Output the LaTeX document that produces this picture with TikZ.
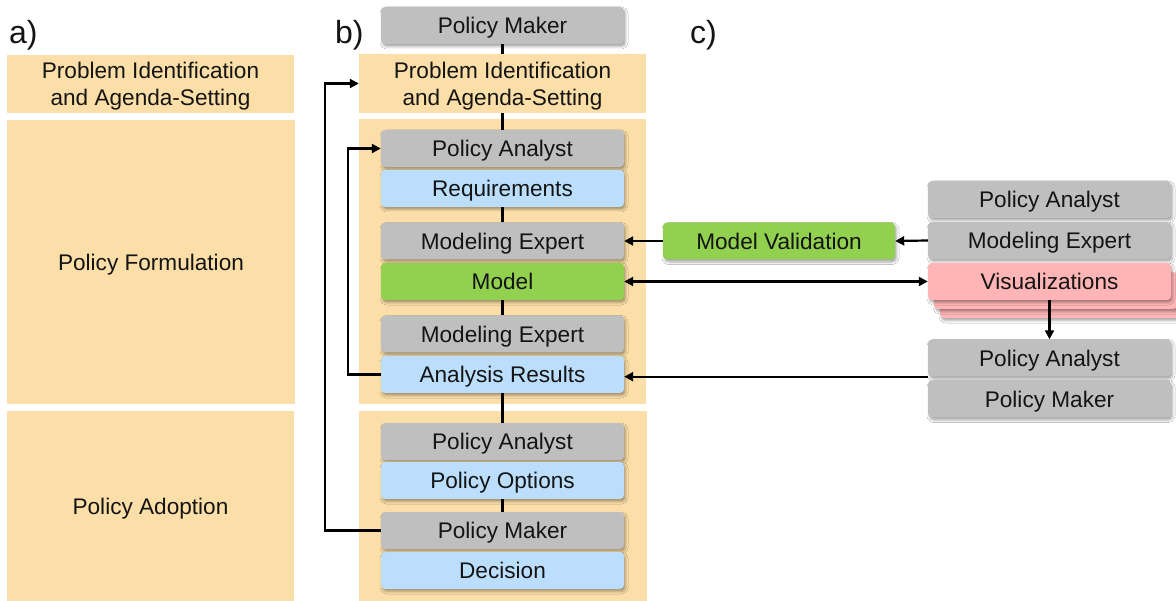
\documentclass[tikz,border=0pt]{standalone}
\usepackage{fontspec}
\setmainfont{Liberation Sans}
\usetikzlibrary{arrows.meta,shadows.blur}
\definecolor{panelc}{HTML}{FCDFA8}
\definecolor{grayc}{HTML}{BFBFBF}
\definecolor{bluec}{HTML}{BBDEFD}
\definecolor{greenc}{HTML}{92D050}
\definecolor{pinkc}{HTML}{FFB5B5}
\definecolor{inkc}{HTML}{141414}
\newcommand{\bodyfont}{\fontsize{22.6}{27}\selectfont}
\newcommand{\tagfont}{\fontsize{32}{36}\selectfont}
\tikzset{
  panel/.style={fill=panelc, draw=none, inner sep=0pt, align=center,
    font=\bodyfont, text=inkc, text depth=0pt},
  panelone/.style={panel, text height=16.5pt},
  card/.style={rounded corners=4pt, draw=none, inner sep=0pt,
    minimum width=243pt, minimum height=37pt, font=\bodyfont, text=inkc,
    text height=16.5pt, text depth=0pt,
    blur shadow={shadow xshift=1.5pt, shadow yshift=-2.5pt,
      shadow blur radius=2.5pt, shadow opacity=35}},
  actor/.style={card, fill=grayc},
  artifact/.style={card, fill=bluec},
  modelbox/.style={card, fill=greenc},
  visbox/.style={card, fill=pinkc},
  layer/.style={fill=pinkc, rounded corners=4pt,
    blur shadow={shadow xshift=1.5pt, shadow yshift=-2.5pt,
      shadow blur radius=2.5pt, shadow opacity=35}},
  tag/.style={font=\tagfont, text=inkc, anchor=base west, inner sep=0pt},
  link/.style={line width=2.2pt, draw=black},
  arr/.style={link, -{Triangle[length=9pt,width=9pt]}},
  dblarr/.style={link, {Triangle[length=9pt,width=9pt]}-{Triangle[length=9pt,width=9pt]}},
}
\begin{document}
\begin{tikzpicture}[x=1pt,y=-1pt]
\useasboundingbox (0,0) rectangle (1176,601);
\fill[white] (0,0) rectangle (1176,601);

% ---- a) policy cycle stages
\node[tag] (ta) at (9,44) {a)};
\node[panel, minimum width=287pt, minimum height=58pt] (a1) at (150.5,84)
  {Problem Identification\\and Agenda-Setting};
\node[panelone, minimum width=288pt, minimum height=284pt] (a2) at (151,262)
  {Policy Formulation};
\node[panelone, minimum width=287pt, minimum height=190pt] (a3) at (150.5,506)
  {Policy Adoption};

% ---- b) stages with actors and artifacts
\node[tag] (tb) at (335,44) {b)};
\node[panel, minimum width=287pt, minimum height=59pt] (b1) at (502.5,83.5)
  {Problem Identification\\and Agenda-Setting};
\node[panel, minimum width=287pt, minimum height=285pt] (b2) at (502.5,261.5) {};
\node[panel, minimum width=288pt, minimum height=190pt] (b3) at (503,506) {};

\node[actor] (pmtop) at (502.5,25.5) {Policy Maker};
\node[actor] (pa1) at (502.5,148.5) {Policy Analyst};
\node[artifact] (req) at (502.5,188.5) {Requirements};
\node[actor] (me1) at (502.5,241) {Modeling Expert};
\node[modelbox] (model) at (502.5,281.5) {Model};
\node[actor] (me2) at (502.5,334) {Modeling Expert};
\node[artifact] (ar) at (502.5,374.5) {Analysis Results};
\node[actor] (pa3) at (502.5,441.5) {Policy Analyst};
\node[artifact] (po) at (502.5,480.5) {Policy Options};
\node[actor] (pmb) at (502.5,530.5) {Policy Maker};
\node[artifact] (dec) at (502.5,570.5) {Decision};

\draw[link] (pmtop.south) -- (b1.north);
\draw[link] (b1.south) -- (pa1.north);
\draw[link] (req.south) -- (me1.north);
\draw[link] (model.south) -- (me2.north);
\draw[link] (ar.south) -- (pa3.north);
\draw[link] (po.south) -- (pmb.north);

% feedback loops
\draw[arr] (ar.west) -- ++(-33,0) |- (pa1.west);
\draw[arr] (pmb.west) -- ++(-56,0) |- (b1.west);

% ---- c) model validation and visual analysis
\node[tag] (tc) at (690,44) {c)};
\node[actor] (pac) at (1049.5,199.5) {Policy Analyst};
\node[actor] (mec) at (1049.5,240.5) {Modeling Expert};
\fill[layer] (940,281) rectangle (1183,318);
\fill[layer] (934,272) rectangle (1177,309);
\node[visbox] (vis) at (1049.5,281.5) {Visualizations};
\node[actor] (pa2c) at (1049.5,358) {Policy Analyst};
\node[actor] (pmc) at (1049.5,399) {Policy Maker};
\node[modelbox, minimum width=232pt] (mv) at (779,241) {Model Validation};

\draw[arr] (mec.west) -- (mv.east);
\draw[arr] (mv.west) -- (me1.east);
\draw[dblarr] (model.east) -- (vis.west);
\draw[arr] (vis.south) -- (pa2c.north);
\draw[arr] (pa2c.south west) -- (pa2c.south west -| ar.east);
\end{tikzpicture}
\end{document}
